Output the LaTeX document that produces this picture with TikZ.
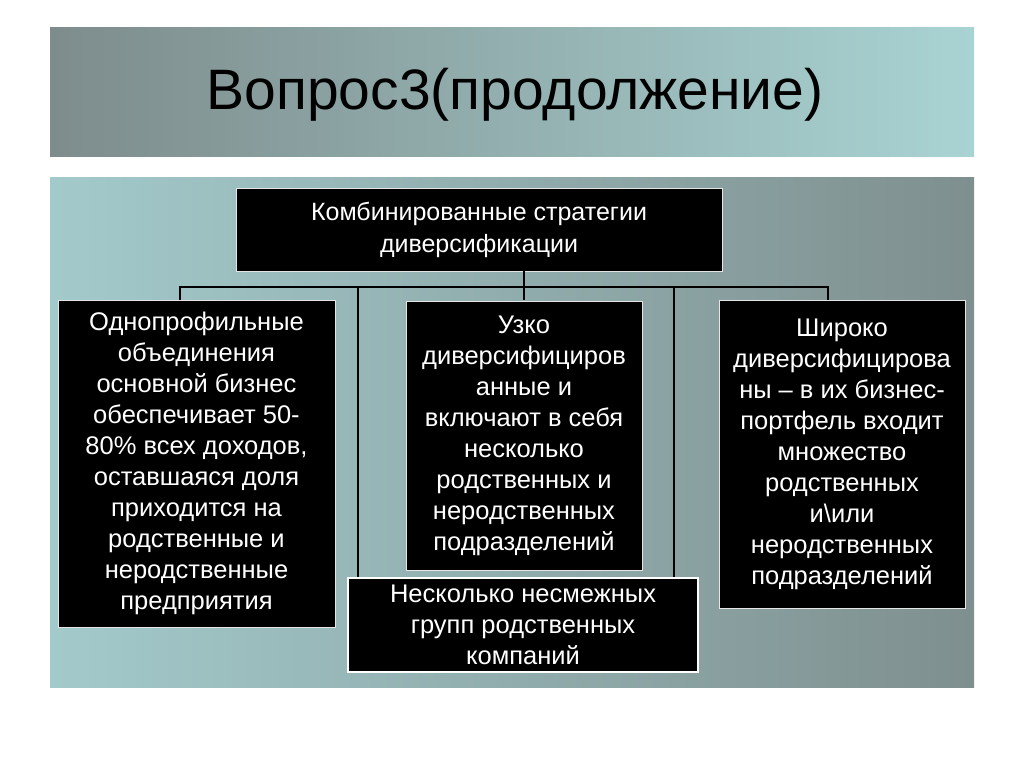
\documentclass[tikz,border=0pt]{standalone}
\usepackage{fontspec}
\setmainfont{Liberation Sans}
\definecolor{tA}{HTML}{7E8C8C}
\definecolor{tB}{HTML}{A9D3D3}
\definecolor{pA}{HTML}{A3CACB}
\definecolor{pB}{HTML}{7F8F8F}
\begin{document}
\begin{tikzpicture}[x=1pt,y=-1pt,
  blk/.style={fill=black,text=white,draw=white!80!gray,line width=0.8pt,align=center,font=\fontsize{25.5}{31}\selectfont,inner sep=0pt},
  ln/.style={draw=black,line width=2pt}]
\useasboundingbox (0,0) rectangle (1024,767);
\fill[white] (0,0) rectangle (1024,767);
\shade[left color=tA, right color=tB] (50,28) rectangle (974,157);
\shade[left color=pA, right color=pB] (50,178) rectangle (974,687);
\node[font=\fontsize{57}{60}\selectfont,anchor=west] (title) at (203,95) {Вопрос3(продолжение)};
\node[blk,font=\fontsize{25}{32}\selectfont,minimum width=486,minimum height=83] (top) at (479,229.5) {Комбинированные стратегии\\диверсификации};
\coordinate (bl) at (180,287); \coordinate (br) at (828,287);
\coordinate (bm) at (524,287);
\draw[ln] (bm|-top.south) -- (bm);
\draw[ln] (180,300) -- (bl) -- (br) -- (828,300);
\draw[ln] (358,287) -- (358,580);
\draw[ln] (674,287) -- (674,580);
\draw[ln] (bm) -- (524,300);
\node[blk,minimum width=277,minimum height=327] (a) at (196.5,463.5) {Однопрофильные\\объединения\\основной бизнес\\обеспечивает 50-\\80\% всех доходов,\\оставшаяся доля\\приходится на\\родственные и\\неродственные\\предприятия};
\node[blk,minimum width=236,minimum height=269] (b) at (524,436) {Узко\\диверсифициров\\анные и\\включают в себя\\несколько\\родственных и\\неродственных\\подразделений};
\node[blk,minimum width=246,minimum height=308] (c) at (842,454) {Широко\\диверсифицирова\\ны – в их бизнес-\\портфель входит\\множество\\родственных\\и\textbackslash или\\неродственных\\подразделений};
\node[blk,draw=white,line width=2.5pt,minimum width=350,minimum height=94] (d) at (523,625) {Несколько несмежных\\групп родственных\\компаний};
\end{tikzpicture}
\end{document}
